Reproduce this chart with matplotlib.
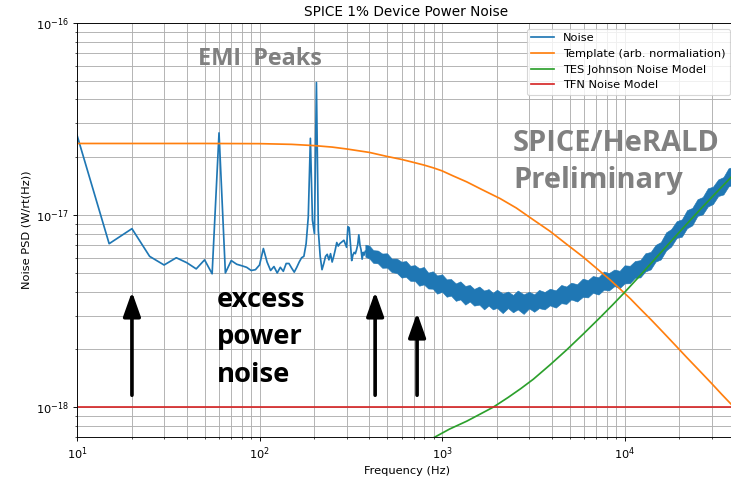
import numpy as np
import matplotlib
matplotlib.use("Agg")
import matplotlib.pyplot as plt

W, H, DPI = 731, 479, 82

# ---------------- data ----------------
# low-frequency noise PSD, 5 Hz bins (W/rtHz, units of 1e-18)
noise_low_freq = [10, 15, 20, 25, 30, 35, 40, 45, 50, 55, 60, 65, 70, 75, 80, 85, 90, 95,
                  100, 105, 110, 115, 120, 125, 130, 135, 140, 145, 150, 155, 160, 165,
                  170, 175, 180, 185, 190, 195, 200, 205, 210, 215, 220, 225, 230, 235,
                  240, 245, 250, 255, 260, 265, 270, 275, 280, 285, 290, 295, 300, 305,
                  310, 315, 320, 325, 330, 335, 340, 345, 350, 355, 360, 365, 370, 375]
noise_low_val = [26.1, 7.1, 8.5, 6.1, 5.5, 6.0, 5.65, 5.25, 5.85, 4.95, 26.8, 5.0, 5.8, 5.55,
                 5.45, 5.35, 5.15, 5.2, 5.5, 6.7, 5.7, 5.15, 5.4, 5.0, 5.35, 5.1, 5.6, 5.6,
                 5.3, 5.05, 5.35, 5.7, 6.0, 6.1, 7.1, 9.8, 25.1, 9.4, 8.0, 49.0, 8.3, 6.1,
                 5.2, 5.6, 6.1, 6.25, 5.85, 6.3, 5.7, 6.1, 6.6, 7.2, 6.9, 7.1, 7.2, 7.3, 7.4,
                 7.1, 6.8, 8.7, 8.6, 7.1, 5.8, 6.2, 6.4, 6.3, 6.6, 7.0, 7.9, 7.0, 6.6, 5.9,
                 6.4, 6.2]

# dense, noisy part of the spectrum: centre, upper and lower envelope (1e-18)
band_freq = [380, 400, 420, 445, 470, 500, 530, 565, 600, 635, 670, 710, 750, 795, 840, 890,
             940, 1000, 1060, 1120, 1190, 1260, 1340, 1420, 1500, 1600, 1700, 1800, 1900,
             2000, 2150, 2300, 2450, 2600, 2800, 3000, 3200, 3400, 3650, 3900, 4200, 4500,
             4800, 5100, 5500, 5900, 6300, 6700, 7200, 7700, 8200, 8800, 9400, 10000,
             10700, 11400, 12200, 13000, 13900, 14800, 15800, 16900, 18000, 19300, 20600,
             22000, 23500, 25100, 26800, 28600, 30500, 32600, 34800, 37100, 39600, 40800]
band_center = [6.5, 6.3, 6.2, 6.0, 5.9, 5.7, 5.55, 5.4, 5.3, 5.15, 5.05, 4.95, 4.85, 4.75,
               4.65, 4.55, 4.45, 4.35, 4.25, 4.15, 4.08, 4.0, 3.93, 3.87, 3.82, 3.76, 3.72,
               3.68, 3.65, 3.62, 3.59, 3.57, 3.56, 3.55, 3.55, 3.56, 3.58, 3.61, 3.65, 3.7,
               3.76, 3.83, 3.9, 3.97, 4.05, 4.13, 4.21, 4.3, 4.4, 4.5, 4.58, 4.65, 4.75,
               4.85, 5.0, 5.15, 5.4, 5.6, 5.9, 6.25, 6.7, 7.2, 7.75, 8.3, 8.8, 9.4, 10.0,
               10.8, 11.5, 12.2, 12.9, 13.7, 14.6, 15.5, 16.4, 16.9]
band_upper = [7.02, 6.93, 6.57, 6.54, 6.31, 6.33, 5.94, 5.94, 5.72, 5.77, 5.45, 5.49, 5.29,
              5.37, 5.02, 5.1, 4.85, 4.92, 4.63, 4.65, 4.41, 4.52, 4.28, 4.33, 4.13, 4.25,
              4.05, 4.12, 3.94, 4.09, 3.91, 4.0, 3.84, 4.05, 3.87, 3.99, 3.87, 4.08, 3.98,
              4.14, 4.06, 4.33, 4.25, 4.45, 4.37, 4.67, 4.59, 4.82, 4.75, 5.09, 4.99, 5.21,
              5.13, 5.48, 5.45, 5.77, 5.83, 6.33, 6.43, 7.0, 7.24, 8.14, 8.45, 9.3, 9.5,
              10.62, 10.9, 12.1, 12.42, 13.79, 14.06, 15.34, 15.77, 17.52, 17.88, 18.76]
band_lower = [6.07, 5.94, 5.64, 5.61, 5.32, 5.33, 5.05, 5.0, 4.73, 4.77, 4.55, 4.54, 4.29,
              4.36, 4.15, 4.14, 3.9, 3.99, 3.76, 3.81, 3.58, 3.64, 3.42, 3.55, 3.38, 3.42,
              3.23, 3.38, 3.23, 3.29, 3.09, 3.28, 3.12, 3.23, 3.06, 3.27, 3.14, 3.28, 3.23,
              3.39, 3.3, 3.48, 3.45, 3.64, 3.55, 3.75, 3.73, 3.94, 3.86, 4.09, 4.05, 4.27,
              4.17, 4.41, 4.42, 4.72, 4.74, 5.09, 5.22, 5.73, 5.88, 6.55, 6.86, 7.61, 7.72,
              8.55, 8.85, 9.91, 10.09, 11.09, 11.42, 12.57, 12.81, 14.09, 14.51, 15.36]

# pulse template (arb. normalisation), 1e-18
template_freq = [10, 50, 100, 150, 200, 250, 300, 400, 500, 600, 700, 800, 900, 1000, 1150,
                 1365, 1650, 2080, 2550, 3166, 3900, 4820, 5900, 7340, 8300, 9440, 10800,
                 12160, 14000, 16300, 19000, 22000, 25900, 30000, 34000, 37900, 40800]
template_val = [23.6, 23.6, 23.55, 23.35, 23.0, 22.6, 22.1, 21.2, 20.2, 19.5, 18.8, 18.2,
                17.6, 17.0, 16.0, 14.9, 13.6, 12.2, 10.9, 9.45, 8.25, 7.05, 6.08, 5.1, 4.62,
                4.13, 3.66, 3.26, 2.85, 2.45, 2.1, 1.81, 1.54, 1.33, 1.17, 1.05, 0.976]

# TES Johnson noise model, 1e-18
johnson_freq = [850, 915, 1100, 1365, 1600, 1905, 2300, 2700, 3166, 3900, 4820, 5900, 7340,
                8600, 10000, 12000, 14000, 17000, 21000, 25900, 31000, 37900, 40800]
johnson_val = [0.675, 0.70, 0.77, 0.846, 0.916, 1.0, 1.124, 1.25, 1.40, 1.66, 1.99, 2.39,
               2.93, 3.41, 3.96, 4.78, 5.62, 6.89, 8.6, 10.67, 12.77, 15.56, 16.75]

# thermal fluctuation noise model, 1e-18
tfn_freq = [10, 40800]
tfn_val = [1.0, 1.0]

unit = 1e-18

# tick positions
x_ticks = [1e1, 1e2, 1e3, 1e4]
y_ticks = [1e-18, 1e-17, 1e-16]

# annotation arrows (frequency, tip value, tail value; 1e-18)
arrow_freq = [20, 430, 730]
arrow_tip = [3.99, 3.99, 3.1]
arrow_tail = [1.155, 1.155, 1.155]

# ---------------- plotting ----------------
fig = plt.figure(figsize=(W / DPI, H / DPI), dpi=DPI)
ax = fig.add_axes([77 / W, 42 / H, 659 / W, 414 / H])

noise_f = noise_low_freq + band_freq
noise_v = np.array(noise_low_val + band_center) * unit
ax.fill_between(band_freq, np.array(band_lower) * unit, np.array(band_upper) * unit,
                color="C0", lw=0.5, edgecolor="C0")
ax.plot(noise_f, noise_v, color="C0", lw=1.5, label="Noise")
ax.plot(template_freq, np.array(template_val) * unit, color="C1", lw=1.5,
        label="Template (arb. normaliation)")
ax.plot(johnson_freq, np.array(johnson_val) * unit, color="C2", lw=1.5,
        label="TES Johnson Noise Model")
ax.plot(tfn_freq, np.array(tfn_val) * unit, color="C3", lw=1.5, label="TFN Noise Model")

ax.set_xscale("log")
ax.set_yscale("log")
ax.set_xticks(x_ticks)
ax.set_yticks(y_ticks)
ax.set_xlim(10, 40800)
ax.set_ylim(7e-19, 1e-16)
ax.grid(True, which="both", color="#b0b0b0", lw=0.8)
ax.set_axisbelow(True)
ax.set_title("SPICE 1% Device Power Noise")
ax.set_xlabel("Frequency (Hz)")
ax.set_ylabel("Noise PSD (W/rt(Hz))")
ax.legend(loc="upper right")

for f, tip, tail in zip(arrow_freq, arrow_tip, arrow_tail):
    ax.annotate("", xy=(f, tip * unit), xytext=(f, tail * unit),
                arrowprops=dict(arrowstyle="-|>,head_length=0.9,head_width=0.32",
                                lw=3.2, color="black", mutation_scale=20,
                                shrinkA=0, shrinkB=0))


def px(x, y):
    return x / W, 1 - y / H


gray = "#808080"
fig.text(*px(198, 65), "EMI  Peaks", family="Open Sans", weight="bold", fontsize=20.5,
         color=gray, va="baseline", ha="left")
fig.text(*px(513, 151), "SPICE/HeRALD", family="Open Sans", weight="bold", fontsize=25.5,
         color=gray, va="baseline", ha="left")
fig.text(*px(513, 188), "Preliminary", family="Open Sans", weight="bold", fontsize=25.5,
         color=gray, va="baseline", ha="left")
for word, base in zip(["excess", "power", "noise"], [307, 344, 382]):
    fig.text(*px(217, base), word, family="Open Sans", weight="bold", fontsize=24,
             color="black", va="baseline", ha="left")

fig.savefig("out.png", dpi=DPI)
